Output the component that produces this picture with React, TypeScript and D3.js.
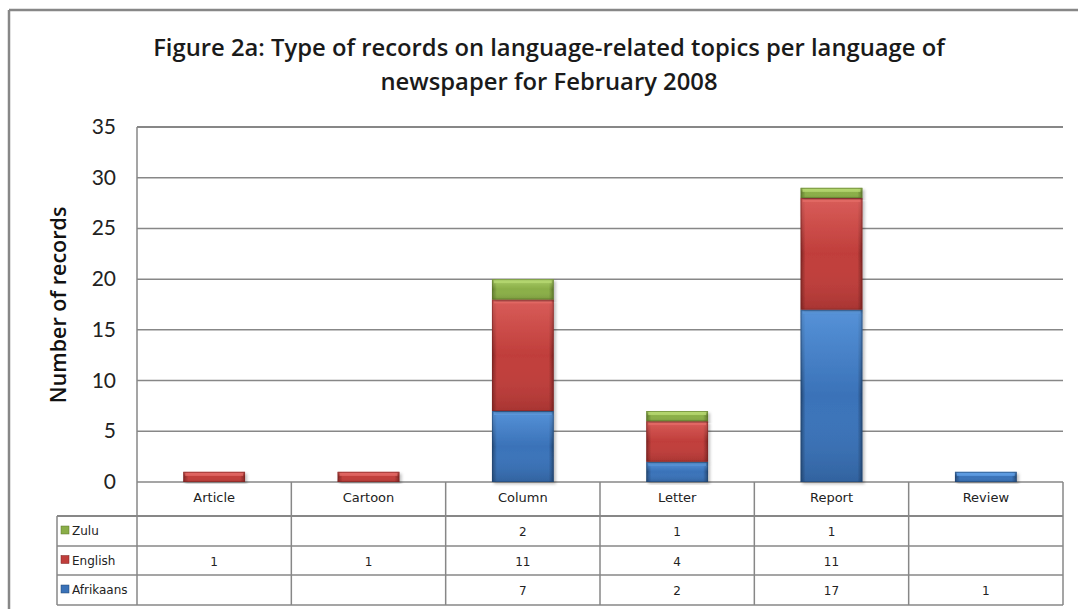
import React from "react";
import * as d3 from "d3";

const categories = ["Article", "Cartoon", "Column", "Letter", "Report", "Review"];
const afrikaans = [0, 0, 7, 2, 17, 1];
const english = [1, 1, 11, 4, 11, 0];
const zulu = [0, 0, 2, 1, 1, 0];
const seriesNames = ["Afrikaans", "English", "Zulu"];
const yTicks = [0, 5, 10, 15, 20, 25, 30, 35];
const titleLines = [
  "Figure 2a: Type of records on language-related topics per language of",
  "newspaper for February 2008",
];
const yLabel = "Number of records";

const colors: Record<string, { base: string; light: string; dark: string }> = {
  Afrikaans: { base: "#3a72b8", light: "#62a0e6", dark: "#22446e" },
  English: { base: "#c03e3b", light: "#e36a66", dark: "#7a2321" },
  Zulu: { base: "#8aae48", light: "#b6d872", dark: "#5a7329" },
};

const W = 1078;
const H = 609;
const plotLeft = 137;
const plotRight = 1063;
const plotTop = 127;
const plotBottom = 482;
const tableLeft = 57;
const rowBounds = [482, 516, 546, 575, 605];
const gridColor = "#878787";
const fontMain = "'Open Sans', Lato, sans-serif";
const fontTable = "'DejaVu Sans', Verdana, sans-serif";

export default function App() {
  const x = d3.scaleBand<string>().domain(categories).range([plotLeft, plotRight]).paddingInner(0).paddingOuter(0);
  const y = d3.scaleLinear().domain([0, 35]).range([plotBottom, plotTop]);
  const barW = x.bandwidth() * 0.4;

  const rows = categories.map((c, i) => ({ cat: c, Afrikaans: afrikaans[i], English: english[i], Zulu: zulu[i] }));
  const stack = d3.stack<any>().keys(seriesNames)(rows);

  const tableRows = [
    { name: "Zulu", values: zulu },
    { name: "English", values: english },
    { name: "Afrikaans", values: afrikaans },
  ];

  return (
    <svg width={W} height={H} style={{ position: "absolute", left: 0, top: 0, background: "#fff" }}>
      <defs>
        {seriesNames.map((s) => (
          <React.Fragment key={s}>
            <linearGradient id={`h-${s}`} x1="0" x2="1" y1="0" y2="0">
              <stop offset="0" stopColor={colors[s].dark} />
              <stop offset="0.08" stopColor={colors[s].base} />
              <stop offset="0.92" stopColor={colors[s].base} />
              <stop offset="1" stopColor={colors[s].dark} />
            </linearGradient>
            <linearGradient id={`v-${s}`} x1="0" x2="0" y1="0" y2="1">
              <stop offset="0" stopColor={colors[s].light} stopOpacity="0.7" />
              <stop offset="0.5" stopColor={colors[s].light} stopOpacity="0" />
              <stop offset="1" stopColor={colors[s].dark} stopOpacity="0.35" />
            </linearGradient>
          </React.Fragment>
        ))}
        <filter id="shadow" x="-20%" y="-5%" width="140%" height="115%">
          <feDropShadow dx="2" dy="2" stdDeviation="1.5" floodColor="#000" floodOpacity="0.25" />
        </filter>
      </defs>

      {/* outer frame */}
      <line x1={9} x2={9} y1={10} y2={H} stroke="#878787" strokeWidth={2.5} />
      <line x1={9} x2={W} y1={10} y2={10} stroke="#878787" strokeWidth={2.5} />

      {/* title */}
      {titleLines.map((t, i) => (
        <text key={i} x={549} y={56 + i * 34} textAnchor="middle" fontFamily={fontMain} fontWeight="600" fontSize={23.8} fill="#1a1a1a">
          {t}
        </text>
      ))}

      {/* gridlines */}
      {yTicks.map((t) => (
        <line key={t} x1={plotLeft} x2={plotRight} y1={y(t)} y2={y(t)} stroke={gridColor} strokeWidth={t === 35 ? 2 : 1.5} />
      ))}
      <line x1={plotLeft} x2={plotLeft} y1={plotTop} y2={plotBottom} stroke={gridColor} strokeWidth={1.5} />

      {/* y ticks */}
      {yTicks.map((t) => (
        <text key={t} x={116} y={y(t) + 7} textAnchor="end" fontFamily="Lato, sans-serif" fontSize={21} fill="#222">
          {t}
        </text>
      ))}
      <text transform={`translate(66,305) rotate(-90)`} textAnchor="middle" fontFamily={fontMain} fontSize={21.5} fontWeight="600" fill="#111">
        {yLabel}
      </text>

      {/* bars */}
      {stack.map((layer) =>
        layer.map((d, i) => {
          const v = d[1] - d[0];
          if (v <= 0) return null;
          const cat = categories[i];
          const bx = (x(cat) as number) + (x.bandwidth() - barW) / 2;
          const by = y(d[1]);
          const bh = y(d[0]) - y(d[1]);
          const s = layer.key;
          return (
            <g key={`${s}-${cat}`} filter="url(#shadow)">
              <rect x={bx} y={by} width={barW} height={bh} fill={`url(#h-${s})`} />
              <rect x={bx} y={by} width={barW} height={bh} fill={`url(#v-${s})`} />
              <rect x={bx + 2} y={by + 1} width={barW - 4} height={Math.min(3, bh / 3)} fill={colors[s].light} opacity={0.8} />
              <rect x={bx + 0.5} y={by + 0.5} width={barW - 1} height={bh - 1} fill="none" stroke={colors[s].dark} strokeOpacity={0.5} strokeWidth={1} />
            </g>
          );
        })
      )}

      {/* data table */}
      {categories.map((c) => (
        <line key={c} x1={x(c) as number} x2={x(c) as number} y1={rowBounds[0]} y2={rowBounds[4]} stroke={gridColor} strokeWidth={1.5} />
      ))}
      <line x1={plotRight} x2={plotRight} y1={rowBounds[0]} y2={rowBounds[4]} stroke={gridColor} strokeWidth={1.5} />
      <line x1={tableLeft} x2={tableLeft} y1={rowBounds[1]} y2={rowBounds[4]} stroke={gridColor} strokeWidth={1.5} />
      {rowBounds.slice(1).map((ry, i) => (
        <line key={ry} x1={tableLeft} x2={plotRight} y1={ry} y2={ry} stroke={gridColor} strokeWidth={i === 0 ? 2 : 1.5} />
      ))}
      {categories.map((c) => (
        <text key={c} x={(x(c) as number) + x.bandwidth() / 2} y={502} textAnchor="middle" fontFamily={fontTable} fontSize={13} fill="#222">
          {c}
        </text>
      ))}
      {tableRows.map((r, ri) => {
        const cy = (rowBounds[ri + 1] + rowBounds[ri + 2]) / 2;
        return (
          <g key={r.name}>
            <rect x={61} y={cy - 5} width={8} height={8} fill={colors[r.name].base} stroke={colors[r.name].dark} strokeWidth={0.5} />
            <text x={72} y={cy + 4} fontFamily={fontTable} fontSize={12} fill="#222">
              {r.name}
            </text>
            {r.values.map((v, i) =>
              v > 0 ? (
                <text key={i} x={(x(categories[i]) as number) + x.bandwidth() / 2} y={cy + 5} textAnchor="middle" fontFamily={fontTable} fontSize={12} fill="#222">
                  {v}
                </text>
              ) : null
            )}
          </g>
        );
      })}
    </svg>
  );
}
